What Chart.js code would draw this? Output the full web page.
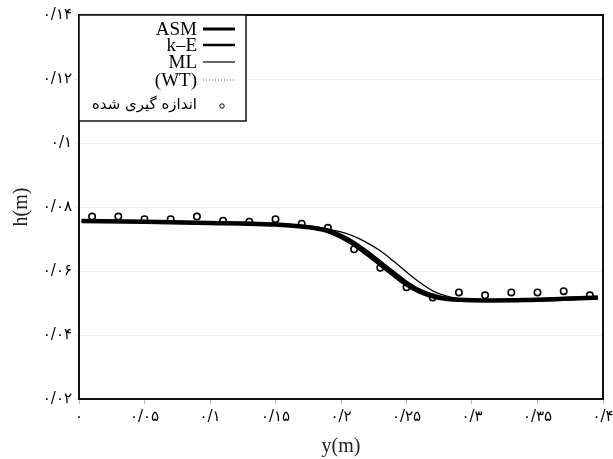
<!DOCTYPE html>
<html>
<head>
<meta charset="utf-8">
<script src="https://cdn.jsdelivr.net/npm/chart.js@4.4.1/dist/chart.umd.min.js"></script>
<style>
  html, body { margin: 0; padding: 0; background: #fff; }
  #wrap { width: 613px; height: 459px; }
</style>
</head>
<body>
<div id="wrap"><canvas id="chart"></canvas></div>
<script>
// tick labels (Persian digits)
const xTickLabels = ['۰', '۰/۰۵', '۰/۱', '۰/۱۵', '۰/۲', '۰/۲۵', '۰/۳', '۰/۳۵', '۰/۴'];
const yTickLabels = ['۰/۰۲', '۰/۰۴', '۰/۰۶', '۰/۰۸', '۰/۱', '۰/۱۲', '۰/۱۴'];

// model curves
const lineX = [0.002, 0.05, 0.10, 0.13, 0.15, 0.17, 0.18, 0.19, 0.20, 0.21, 0.22, 0.23, 0.24, 0.25, 0.26, 0.27, 0.28, 0.29, 0.31, 0.34, 0.37, 0.396];
const asmY  = [0.0756, 0.0754, 0.0750, 0.0748, 0.0745, 0.0739, 0.0734, 0.0725, 0.0707, 0.0683, 0.0653, 0.0621, 0.0589, 0.0558, 0.0535, 0.0521, 0.0513, 0.0510, 0.0508, 0.0509, 0.0513, 0.0517];
const keY   = [0.0756, 0.0755, 0.0751, 0.0749, 0.0746, 0.0740, 0.0736, 0.0728, 0.0712, 0.0690, 0.0661, 0.0629, 0.0597, 0.0566, 0.0541, 0.0525, 0.0515, 0.0511, 0.0508, 0.0508, 0.0512, 0.0516];
const mlY   = [0.0755, 0.0754, 0.0750, 0.0748, 0.0746, 0.0741, 0.0737, 0.0731, 0.0722, 0.0708, 0.0688, 0.0663, 0.0631, 0.0597, 0.0565, 0.0538, 0.0522, 0.0514, 0.0509, 0.0511, 0.0517, 0.0520];
const wtY   = [0.0755, 0.0753, 0.0749, 0.0747, 0.0744, 0.0738, 0.0733, 0.0724, 0.0708, 0.0685, 0.0656, 0.0624, 0.0592, 0.0561, 0.0537, 0.0522, 0.0514, 0.0511, 0.0509, 0.0510, 0.0514, 0.0518];

// measured points
const measX = [0.01, 0.03, 0.05, 0.07, 0.09, 0.11, 0.13, 0.15, 0.17, 0.19, 0.21, 0.23, 0.25, 0.27, 0.29, 0.31, 0.33, 0.35, 0.37, 0.39];
const measY = [0.0770, 0.0770, 0.0762, 0.0762, 0.0770, 0.0757, 0.0754, 0.0762, 0.0748, 0.0735, 0.0668, 0.0610, 0.0549, 0.0517, 0.0533, 0.0524, 0.0533, 0.0533, 0.0537, 0.0524];

const legendLabels = ['ASM', 'k–E', 'ML', '(WT)', 'اندازه گیری شده'];

function pts(xs, ys) {
    return xs.map((x, i) => ({ x: x, y: ys[i] }));
}

const serif = "'Liberation Serif', 'DejaVu Serif', serif";
const tickFont = "'DejaVu Sans', sans-serif";

// box around the plot area + legend drawn inside it
const framePlugin = {
    id: 'frame',
    afterDraw(chart) {
        const ctx = chart.ctx;
        const a = chart.chartArea;
        ctx.save();
        ctx.strokeStyle = '#111';
        ctx.lineWidth = 2;
        ctx.strokeRect(a.left, a.top, a.right - a.left, a.bottom - a.top);

        // legend box
        const bx = a.left, by = a.top, bw = 167, bh = 106;
        ctx.fillStyle = '#fff';
        ctx.fillRect(bx, by, bw, bh);
        ctx.lineWidth = 1.5;
        ctx.strokeRect(bx, by, bw, bh);

        const rows = [14, 30, 47, 65, 90];
        const textRight = bx + 118;
        const lineL = bx + 124, lineR = bx + 156;
        ctx.textAlign = 'right';
        ctx.textBaseline = 'middle';
        ctx.fillStyle = '#000';
        chart.data.datasets.forEach((ds, i) => {
            const y = by + rows[i];
            ctx.font = i === 4 ? "15px 'DejaVu Sans', sans-serif" : '19px ' + serif;
            ctx.fillText(legendLabels[i], textRight, y + (i === 4 ? 0 : 1));
            if (i < 4) {
                ctx.beginPath();
                ctx.strokeStyle = ds.borderColor;
                ctx.lineWidth = ds.legendWidth;
                ctx.setLineDash(ds.borderDash || []);
                ctx.moveTo(lineL, y);
                ctx.lineTo(lineR, y);
                ctx.stroke();
                ctx.setLineDash([]);
            } else {
                ctx.beginPath();
                ctx.strokeStyle = '#000';
                ctx.lineWidth = 1;
                ctx.arc(bx + 143, y + 1, 2.2, 0, Math.PI * 2);
                ctx.stroke();
            }
        });
        ctx.restore();
    }
};

new Chart(document.getElementById('chart'), {
    type: 'line',
    data: {
        datasets: [
            { label: 'ASM', data: pts(lineX, asmY), borderColor: '#000', borderWidth: 4.5, legendWidth: 3, pointRadius: 0, cubicInterpolationMode: 'monotone' },
            { label: 'k-E', data: pts(lineX, keY), borderColor: '#000', borderWidth: 3, legendWidth: 2.5, pointRadius: 0, cubicInterpolationMode: 'monotone' },
            { label: 'ML', data: pts(lineX, mlY), borderColor: '#000', borderWidth: 1.3, legendWidth: 1.2, pointRadius: 0, cubicInterpolationMode: 'monotone' },
            { label: '(WT)', data: pts(lineX, wtY), borderColor: '#555', borderWidth: 1, legendWidth: 1, borderDash: [1, 2], pointRadius: 0, cubicInterpolationMode: 'monotone' },
            { label: 'measured', data: pts(measX, measY), showLine: false, pointRadius: 3.2, pointBorderWidth: 1.6, pointBorderColor: '#000', pointBackgroundColor: '#fff', borderColor: '#000' }
        ]
    },
    options: {
        responsive: true,
        maintainAspectRatio: false,
        animation: false,
        layout: { padding: { top: 15, right: 10, left: 0, bottom: 0 } },
        plugins: {
            legend: { display: false },
            tooltip: { enabled: false }
        },
        scales: {
            x: {
                type: 'linear',
                min: 0,
                max: 0.4,
                afterFit: s => { s.height = 60; s.paddingRight = 0; s.paddingLeft = 0; },
                ticks: {
                    stepSize: 0.05,
                    padding: 4,
                    color: '#000',
                    font: { family: tickFont, size: 15 },
                    maxRotation: 0,
                    callback: v => xTickLabels[Math.round(v / 0.05)]
                },
                grid: { drawOnChartArea: false, tickLength: 5, color: '#bbb' },
                border: { color: '#111', width: 2 },
                title: { display: true, text: 'y(m)', color: '#222', font: { family: serif, size: 20 }, padding: { top: 0, bottom: 0 } }
            },
            y: {
                min: 0.02,
                max: 0.14,
                afterFit: s => { s.width = 79; s.paddingTop = 0; s.paddingBottom = 0; },
                ticks: {
                    stepSize: 0.02,
                    padding: 2,
                    color: '#000',
                    font: { family: tickFont, size: 15 },
                    callback: v => yTickLabels[Math.round((v - 0.02) / 0.02)]
                },
                grid: { color: '#eee', tickLength: 5 },
                border: { color: '#111', width: 2 },
                title: { display: true, text: 'h(m)', color: '#222', font: { family: serif, size: 20 }, padding: { top: 10, bottom: 0 } }
            }
        }
    },
    plugins: [framePlugin]
});
</script>
</body>
</html>
